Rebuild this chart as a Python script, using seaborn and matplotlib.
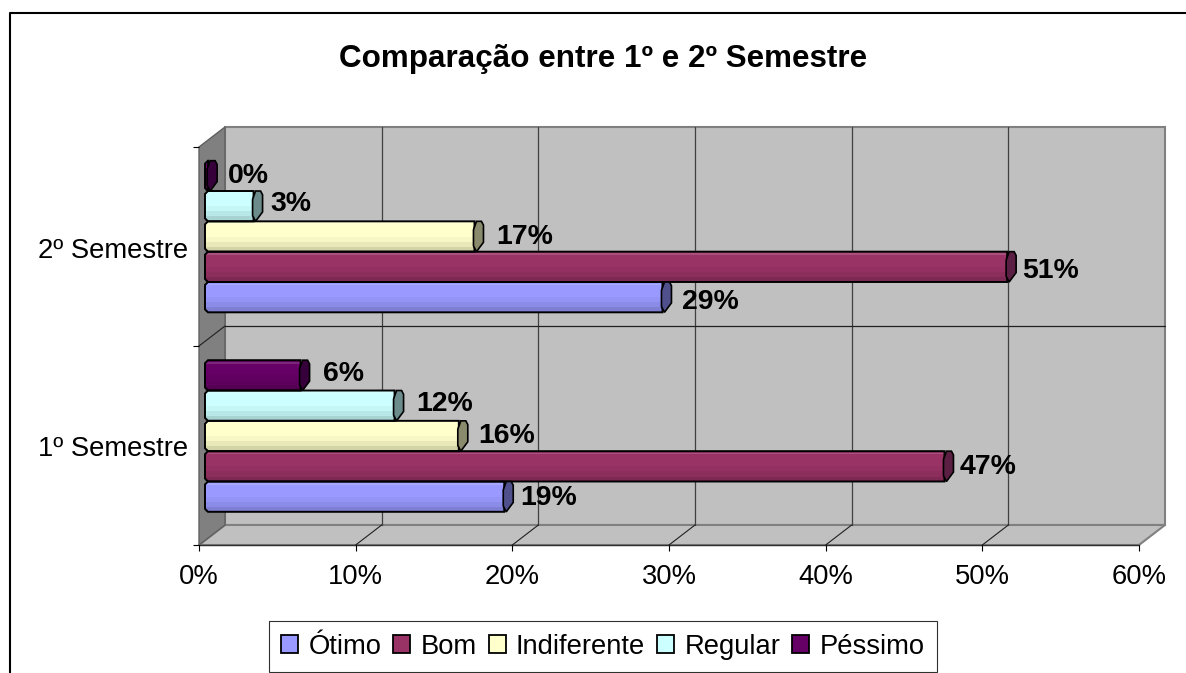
import pandas as pd
import matplotlib
matplotlib.use("Agg")
import matplotlib.pyplot as plt
import seaborn as sns
from matplotlib.lines import Line2D
from matplotlib.patches import Patch, Polygon, Rectangle
from matplotlib.transforms import Affine2D, IdentityTransform

# values (percent)
semesters = ["2º Semestre", "1º Semestre"]
ratings = ["Ótimo", "Bom", "Indiferente", "Regular", "Péssimo"]
otimo = [29.2, 19.1]
bom = [51.2, 47.2]
indiferente = [17.2, 16.2]
regular = [3.1, 12.1]
pessimo = [0.2, 6.1]
x_ticks = [0, 10, 20, 30, 40, 50, 60]

colors = {"Ótimo": "#9999FF", "Bom": "#993366", "Indiferente": "#FFFFCC",
          "Regular": "#CCFFFF", "Péssimo": "#660066"}
cap_colors = {"Ótimo": "#50508C", "Bom": "#5A1F42", "Indiferente": "#8A8A6C",
              "Regular": "#6C8C8C", "Péssimo": "#36003A"}
# pixel offsets of the labels from the bar end
label_gaps = {"Ótimo": [20, 16], "Bom": [15, 15], "Indiferente": [22, 19],
              "Regular": [17, 22], "Péssimo": [20, 22]}
label_drops = {"Ótimo": [5, 1], "Bom": [4, 1], "Indiferente": [0, 0],
               "Regular": [-2, -2], "Péssimo": [0, -1]}

W, H = 1186, 673
FONT = 19.7
DEPTH_X, DEPTH_Y = 26, 20

sns.set_theme(style="white", font="Liberation Sans", rc={
    "text.color": "black", "xtick.color": "black", "ytick.color": "black"})

df = pd.DataFrame({
    "Semestre": semesters * 5,
    "Avaliacao": sum([[r] * 2 for r in ratings], []),
    "Valor": otimo + bom + indiferente + regular + pessimo,
})


def box(left, top, width, height):
    return [left / W, (H - top - height) / H, width / W, height / H]


fig = plt.figure(figsize=(W / 100, H / 100), dpi=100, facecolor="white")

# front plane of the 3d box carries the axis ticks
front = fig.add_axes(box(199, 147, 940, 398))
front.set_xlim(0, 60)
front.set_ylim(1.5, -0.5)
front.patch.set_visible(False)
for s in front.spines.values():
    s.set_visible(False)
front.set_xticks(x_ticks)
front.set_xticklabels([f"{t}%" for t in x_ticks], fontsize=FONT)
front.set_yticks([0, 1])
front.set_yticklabels(semesters, fontsize=FONT)
front.set_yticks([-0.5, 0.5, 1.5], minor=True)
front.tick_params(axis="x", length=4.5, width=0.8, pad=9.5, bottom=True)
front.tick_params(axis="y", which="major", length=0, pad=8)
front.tick_params(axis="y", which="minor", length=4.5, width=0.8, left=True)
for lbl in front.get_yticklabels():
    lbl.set_transform(lbl.get_transform() + Affine2D().translate(0, -1))


def px(x, y, back=False):
    a, b = front.transData.transform((x, y))
    return (a + DEPTH_X, b + DEPTH_Y) if back else (a, b)


def poly(pts, fc, ec, lw, z):
    front.add_patch(Polygon(pts, closed=True, facecolor=fc, edgecolor=ec, linewidth=lw,
                            transform=IdentityTransform(), clip_on=False, zorder=z))


def seg(a, b, color="#202020", lw=0.8, z=0.3):
    front.add_line(Line2D([a[0], b[0]], [a[1], b[1]], color=color, linewidth=lw, clip_on=False,
                          transform=IdentityTransform(), zorder=z))


# walls and floor
poly([px(0, -0.5, True), px(60, -0.5, True), px(60, 1.5, True), px(0, 1.5, True)],
     "#C0C0C0", "#808080", 1.5, 0.1)
poly([px(0, 1.5), px(60, 1.5), px(60, 1.5, True), px(0, 1.5, True)],
     "#C0C0C0", "#808080", 1.5, 0.1)
poly([px(0, -0.5), px(0, -0.5, True), px(0, 1.5, True), px(0, 1.5)],
     "#808080", "#606060", 1.0, 0.2)
front.plot([0, 60], [1.5, 1.5], color="#303030", lw=1.0, clip_on=False, zorder=0.3)

# gridlines, on the back wall and running out over floor and side wall
for t in x_ticks[1:-1]:
    seg(px(t, -0.5, True), px(t, 1.5, True), color="#404040", lw=0.9)
    seg(px(t, 1.5), px(t, 1.5, True))
seg(px(0, 0.5), px(0, 0.5, True))
seg(px(0, 0.5, True), px(60, 0.5, True), lw=0.9)

# bars live a little inside the box
ax = fig.add_axes(box(205, 136.75, 940, 399))
sns.barplot(data=df, y="Semestre", x="Valor", hue="Avaliacao", order=semesters,
            hue_order=ratings[::-1], palette=colors, width=0.76, saturation=1,
            edgecolor="none", legend=False, ax=ax)
ax.set_xlim(0, 60)
ax.set_ylim(1.5, -0.5)
ax.axis("off")

for name, container in zip(ratings[::-1], ax.containers):
    for i, bar in enumerate(container.patches):
        x0, y0, w, h = bar.get_x(), bar.get_y(), bar.get_width(), bar.get_height()
        sx, top = ax.transData.transform((x0, y0))
        ex, bot = ax.transData.transform((x0 + w, y0 + h))

        # outline with the rounded off left end, also used to clip the fill
        outline = Polygon([(ex, top), (ex, bot), (sx + 3, bot), (sx, bot + 3), (sx, top - 3),
                           (sx + 3, top)], closed=True, facecolor="none", edgecolor="black",
                          linewidth=1.4, transform=IdentityTransform(), clip_on=False, zorder=1.2)
        ax.add_patch(outline)
        bar.set_clip_path(outline)

        # cylinder style shading
        ax.add_patch(Rectangle((x0, y0 + h * 0.06), w, h * 0.05, facecolor="white",
                               alpha=0.15, edgecolor="none", zorder=1.1))
        for start, alpha in [(0.5, 0.03), (0.67, 0.06), (0.84, 0.09)]:
            ax.add_patch(Rectangle((x0, y0 + h * start), w, h * (1 - start), facecolor="black",
                                   alpha=alpha, edgecolor="none", zorder=1.1))
        # end cap
        hh = top - bot
        shape = [(2, 0), (7, 0), (9, 0.125), (9, 0.69), (2, 1), (-1, 0.81), (-1, 0.28)]
        ax.add_patch(Polygon([(ex + dx, top - f * hh) for dx, f in shape], closed=True,
                             facecolor=cap_colors[name], edgecolor="black", linewidth=1.2,
                             transform=IdentityTransform(), clip_on=False, zorder=1.3))
        ax.annotate(f"{w:.0f}%", (x0 + w, y0 + h / 2),
                    xytext=(label_gaps[name][i] * 0.72, -label_drops[name][i] * 0.72),
                    textcoords="offset points", ha="left", va="center", fontsize=20.4,
                    fontweight="bold", color="black", annotation_clip=False, zorder=3)

fig.text(603 / W, 1 - 59.5 / H, "Comparação entre 1º e 2º Semestre", ha="center", va="center",
         fontsize=22.6, fontweight="bold", color="black")

handles = [Patch(facecolor=colors[r], edgecolor="black", linewidth=1.3) for r in ratings]
leg = fig.legend(handles, ratings, ncol=5, loc="lower left", bbox_to_anchor=(269 / W, 1 / H),
                 fontsize=FONT, frameon=True, fancybox=False, framealpha=1, edgecolor="#303030",
                 borderaxespad=0, borderpad=0.45, handlelength=0.62, handleheight=0.62,
                 handletextpad=0.365, columnspacing=0.45, labelspacing=0)
leg.get_frame().set_linewidth(0.8)

# outer chart frame, only left and top are inside the image
fig.add_artist(Line2D([10 / W, 10 / W, 1], [0, 1 - 13 / H, 1 - 13 / H], color="black",
                      linewidth=1.5))

fig.savefig("out.png", dpi=100)
